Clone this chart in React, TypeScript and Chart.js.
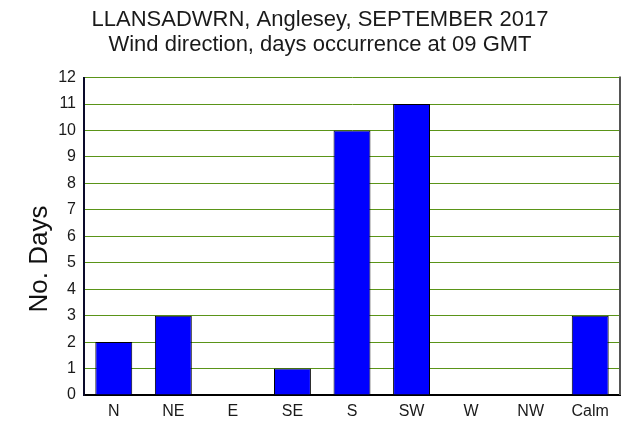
import React, { useEffect, useRef } from 'react';
import { Chart, registerables } from 'chart.js';

Chart.register(...registerables);

const directions = ['N', 'NE', 'E', 'SE', 'S', 'SW', 'W', 'NW', 'Calm'];
const daysCount = [2, 3, 0, 1, 10, 11, 0, 0, 3];
const titleLines = ['LLANSADWRN, Anglesey, SEPTEMBER 2017', 'Wind direction, days occurrence at 09 GMT'];
const yAxisTitle = 'No. Days';

// draws the right border and the rotated y-axis title
const framePlugin = {
  id: 'frame',
  afterDraw(chart: any) {
    const { ctx, chartArea } = chart;
    ctx.save();
    ctx.strokeStyle = '#555555';
    ctx.lineWidth = 2;
    ctx.beginPath();
    ctx.moveTo(chartArea.right, chartArea.top - 1);
    ctx.lineTo(chartArea.right, chartArea.bottom);
    ctx.stroke();

    ctx.translate(40, 259);
    ctx.rotate(-Math.PI / 2);
    ctx.fillStyle = '#111111';
    ctx.font = "26px 'Liberation Sans', Arial, sans-serif";
    ctx.textAlign = 'center';
    ctx.textBaseline = 'middle';
    ctx.fillText(yAxisTitle, 0, 0);
    ctx.restore();
  },
};

const App = (): JSX.Element => {
  const canvasRef = useRef<HTMLCanvasElement>(null);
  const chartRef = useRef<Chart | null>(null);

  useEffect(() => {
    document.body.style.margin = '0';
    if (!canvasRef.current) return;
    if (chartRef.current) {
      chartRef.current.destroy();
      chartRef.current = null;
    }

    const font = "'Liberation Sans', Arial, sans-serif";

    chartRef.current = new Chart(canvasRef.current, {
      type: 'bar',
      data: {
        labels: directions,
        datasets: [
          {
            data: daysCount,
            backgroundColor: '#0000ff',
            borderColor: '#000000',
            borderWidth: 1,
            barPercentage: 0.62,
            categoryPercentage: 1,
          },
        ],
      },
      options: {
        animation: false,
        responsive: false,
        maintainAspectRatio: false,
        layout: { padding: { left: 20, right: 17, top: 0, bottom: 0 } },
        plugins: {
          legend: { display: false },
          tooltip: { enabled: false },
          title: {
            display: true,
            text: titleLines,
            color: '#1a1a1a',
            font: { family: font, size: 22, weight: 'normal', lineHeight: 1.15 },
            padding: { top: 7, bottom: 20 },
          },
        },
        scales: {
          x: {
            grid: { display: false, drawTicks: false },
            border: { display: true, color: '#000000', width: 2 },
            ticks: { color: '#1a1a1a', font: { family: font, size: 16 }, padding: 7 },
            afterFit: (scale: any) => {
              scale.height = 36;
            },
          },
          y: {
            min: 0,
            max: 12,
            grid: { color: '#5a9418', lineWidth: 1, drawTicks: false },
            border: { display: true, color: '#0a0a2a', width: 2 },
            ticks: { stepSize: 1, color: '#1a1a1a', font: { family: font, size: 16 }, padding: 8 },
            afterFit: (scale: any) => {
              scale.width = 64;
            },
          },
        },
      },
      plugins: [framePlugin],
    });

    return () => {
      if (chartRef.current) {
        chartRef.current.destroy();
        chartRef.current = null;
      }
    };
  }, []);

  return (
    <div style={{ width: 637, height: 431, position: 'relative', background: '#ffffff' }}>
      <canvas ref={canvasRef} width={637} height={431} role="img" aria-label={titleLines.join(' ')}></canvas>
    </div>
  );
};

export default App;
